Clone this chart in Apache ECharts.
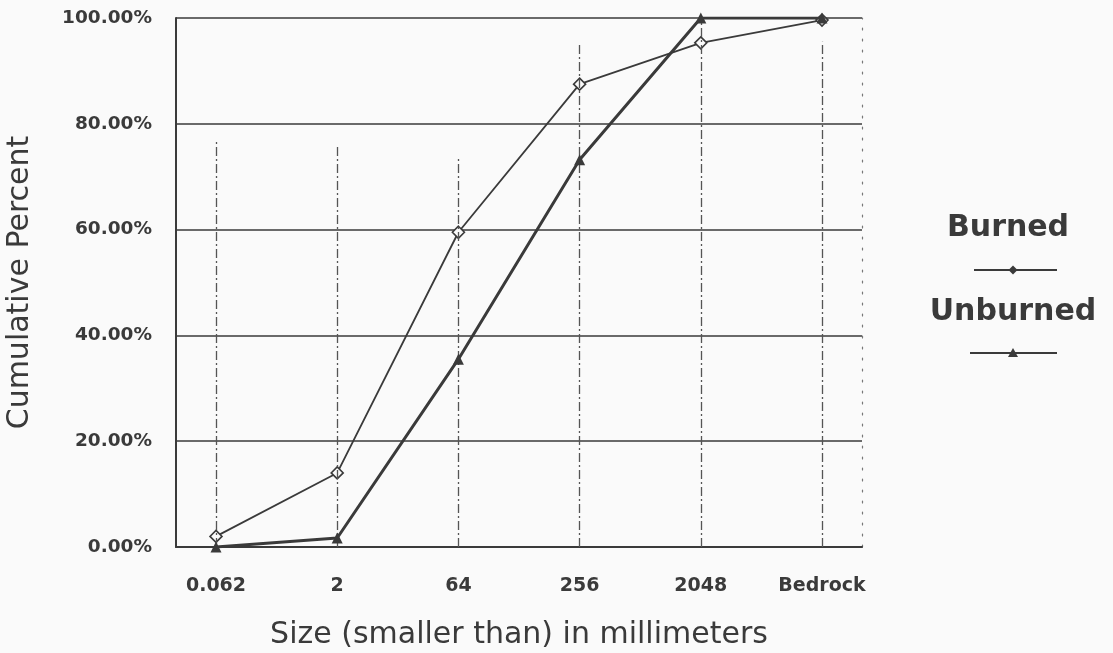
<!DOCTYPE html>
<html><head><meta charset="utf-8">
<script src="https://cdn.jsdelivr.net/npm/echarts@6/dist/echarts.min.js"></script>
<style>html,body{margin:0;padding:0;background:#fafafa}#c{width:1113px;height:653px}</style>
</head><body><div id="c"></div>
<script>
const categories = ['0.062', '2', '64', '256', '2048', 'Bedrock'];
const burned = [2.0, 14.0, 59.5, 87.5, 95.3, 99.6];
const unburned = [0.0, 1.7, 35.5, 73.2, 100.0, 100.0];
const yTicks = [0, 20, 40, 60, 80, 100];

const FONT = '"DejaVu Sans", "Liberation Sans", Arial, sans-serif';
const INK = '#3a3a3a';
const chart = echarts.init(document.getElementById('c'), null, {renderer: 'canvas'});
const idx = categories.map((_, i) => i);
const vTops = [76.6, 75.6, 73.7, 95, 100, 95.5];

chart.setOption({
  backgroundColor: '#fafafa',
  animation: false,
  grid: {left: 176, right: 251, top: 18, bottom: 106, outerBoundsMode: 'none', containLabel: false},
  xAxis: {
    type: 'value', min: -0.33, max: 5.33,
    name: 'Size (smaller than) in millimeters', nameLocation: 'middle', nameGap: 73,
    nameTextStyle: {fontFamily: FONT, fontSize: 30, color: INK},
    axisLine: {show: true, lineStyle: {color: INK, width: 2}},
    axisTick: {show: false},
    splitLine: {show: false},
    axisLabel: {customValues: idx, formatter: v => categories[Math.round(v)], margin: 30,
      fontFamily: FONT, fontSize: 19, fontWeight: 'bold', color: INK}
  },
  yAxis: [{
    type: 'value', min: yTicks[0], max: yTicks[yTicks.length - 1], interval: yTicks[1] - yTicks[0],
    name: 'Cumulative Percent', nameLocation: 'middle', nameGap: 141, nameRotate: 90,
    nameTextStyle: {fontFamily: FONT, fontSize: 30, color: INK},
    axisLine: {show: true, onZero: false, lineStyle: {color: INK, width: 2}},
    axisTick: {show: false},
    splitLine: {show: true, lineStyle: {color: INK, width: 1.5}},
    axisLabel: {formatter: v => v.toFixed(2) + '%', margin: 24,
      fontFamily: FONT, fontSize: 18.5, fontWeight: 'bold', color: INK}
  }, {
    type: 'value', min: 0, max: 100, position: 'right',
    axisLine: {show: true, onZero: false, lineStyle: {color: '#777', width: 1.2, type: [2, 9]}},
    axisTick: {show: false}, axisLabel: {show: false}, splitLine: {show: false}
  }],
  series: [{
    name: 'Burned', type: 'line',
    data: burned.map((v, i) => [i, v]),
    symbol: 'diamond', symbolSize: 12, showSymbol: true,
    lineStyle: {color: INK, width: 1.8},
    itemStyle: {color: '#fafafa', borderColor: INK, borderWidth: 1.6},
    z: 4,
    markLine: {
      silent: true, symbol: 'none', label: {show: false},
      lineStyle: {color: '#555', width: 1.3, type: [9, 3, 2, 3]},
      data: idx.map((i) => [{coord: [i, 0]}, {coord: [i, vTops[i]]}])
    }
  }, {
    name: 'Unburned', type: 'line',
    data: unburned.map((v, i) => [i, v]),
    symbol: 'triangle', symbolSize: 11,
    lineStyle: {color: INK, width: 3},
    itemStyle: {color: INK},
    z: 5
  }],
  graphic: [
    {type: 'text', x: 1008, y: 228, style: {text: 'Burned', font: 'bold 30px ' + FONT, fill: INK, align: 'center', verticalAlign: 'middle'}},
    {type: 'line', shape: {x1: 974, y1: 270, x2: 1057, y2: 270}, style: {stroke: INK, lineWidth: 1.8}},
    {type: 'polygon', shape: {points: [[1013, 265.5], [1017.5, 270], [1013, 274.5], [1008.5, 270]]}, style: {fill: INK}},
    {type: 'text', x: 1013, y: 312, style: {text: 'Unburned', font: 'bold 30px ' + FONT, fill: INK, align: 'center', verticalAlign: 'middle'}},
    {type: 'line', shape: {x1: 970, y1: 353, x2: 1057, y2: 353}, style: {stroke: INK, lineWidth: 2.2}},
    {type: 'polygon', shape: {points: [[1013, 348], [1018, 357], [1008, 357]]}, style: {fill: INK}}
  ]
});
</script></body></html>
